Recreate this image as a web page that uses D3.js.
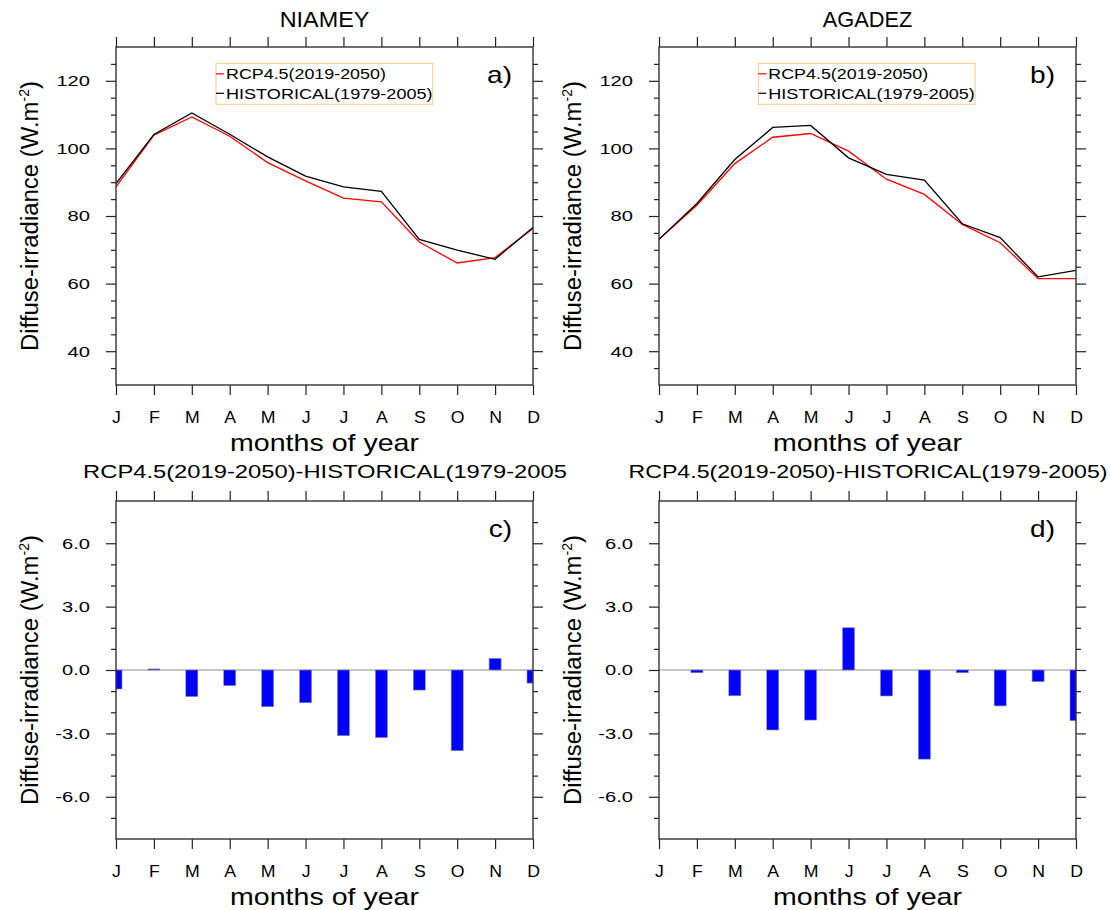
<!DOCTYPE html>
<html>
<head>
<meta charset="utf-8">
<script src="https://cdn.jsdelivr.net/npm/d3@7"></script>
<style>
  html, body { margin: 0; padding: 0; background: #fff; }
  svg { display: block; }
  text { font-family: "Liberation Sans", Arial, Helvetica, sans-serif; fill: #000; }
</style>
</head>
<body>
<svg id="chart" width="1110" height="910"></svg>
<script>
// ---- data ---------------------------------------------------------------
const months = ["J", "F", "M", "A", "M", "J", "J", "A", "S", "O", "N", "D"];

// monthly mean diffuse irradiance (W.m-2)
const niameyRcp  = [88.6, 103.9, 109.3, 103.6, 95.8, 90.4, 85.3, 84.2, 72.3, 66.1, 67.7, 76.3];
const niameyHist = [89.6, 104.1, 110.5, 104.2, 97.5, 91.8, 88.6, 87.3, 73.1, 69.9, 67.2, 76.6];
const agadezRcp  = [73.1, 83.2, 95.5, 103.3, 104.4, 99.2, 90.9, 86.4, 77.5, 72.1, 61.5, 61.5];
const agadezHist = [73.1, 83.7, 96.7, 106.2, 106.8, 97.2, 92.3, 90.6, 77.7, 73.6, 62.0, 63.9];

// RCP4.5 minus HISTORICAL (W.m-2)
const niameyDiff = [-0.9, 0.05, -1.26, -0.74, -1.74, -1.55, -3.11, -3.2, -0.95, -3.82, 0.55, -0.62];
const agadezDiff = [0, -0.13, -1.22, -2.84, -2.37, 2.0, -1.23, -4.22, -0.13, -1.7, -0.55, -2.4];

const lineTicks = [40, 60, 80, 100, 120];
const barTicks = [-6, -3, 0, 3, 6];
const legendLabels = ["RCP4.5(2019-2050)", "HISTORICAL(1979-2005)"];
const siteTitles = ["NIAMEY", "AGADEZ"];
const diffTitles = ["RCP4.5(2019-2050)-HISTORICAL(1979-2005", "RCP4.5(2019-2050)-HISTORICAL(1979-2005)"];
const panelTags = ["a)", "b)", "c)", "d)"];
const xTitle = "months of year";

// ---- layout -------------------------------------------------------------
const svg = d3.select("#chart");
const W = 417, H = 338;
const colX = [116, 659];
const rowY = [47, 501];
const frameColor = "#333";
const tickColor = "#222";

// text helper: places text at (x,y), optionally rotated, stretched horizontally
function label(parent, x, y, parts, size, opts = {}) {
  const t = parent.append("text")
    .attr("font-size", size)
    .attr("text-anchor", opts.anchor || "middle");
  if (typeof parts === "string") parts = [{ s: parts }];
  parts.forEach(p => {
    const ts = t.append("tspan").text(p.s);
    if (p.size) ts.attr("font-size", p.size);
    if (p.dy) ts.attr("dy", p.dy);
  });
  const natural = t.node().getComputedTextLength();
  const k = opts.width ? opts.width / natural : (opts.sx || 1);
  t.attr("transform", `translate(${x},${y})` + (opts.rotate ? ` rotate(${opts.rotate})` : "") + ` scale(${k},1)`);
  return t;
}

function styleAxis(g, fontSize, sx) {
  g.attr("font-family", null).attr("font-size", null);
  g.select(".domain").remove();
  g.selectAll(".tick line").attr("stroke", tickColor).attr("stroke-width", 1.2);
  g.selectAll(".tick text").attr("font-size", fontSize).attr("fill", "#000").each(function () {
    const t = d3.select(this);
    const x = +t.attr("x") || 0;
    t.attr("x", 0).attr("transform", `translate(${x},0) scale(${sx},1)`);
  });
}

function panel(idx, cfg) {
  const px = colX[idx % 2], py = rowY[Math.floor(idx / 2)];
  const g = svg.append("g").attr("transform", `translate(${px},${py})`);
  const x = d3.scaleLinear().domain([0, 11]).range([0, W]);
  const y = d3.scaleLinear().domain(cfg.domain).range([H, 0]);

  const clipId = "clip" + idx;
  g.append("clipPath").attr("id", clipId).append("rect").attr("width", W).attr("height", H);
  const plot = g.append("g").attr("clip-path", `url(#${clipId})`);

  if (cfg.kind === "line") {
    const line = d3.line().x((d, i) => x(i)).y(d => y(d));
    plot.append("path").datum(cfg.rcp).attr("d", line)
      .attr("fill", "none").attr("stroke", "#ff0000").attr("stroke-width", 1.3);
    plot.append("path").datum(cfg.hist).attr("d", line)
      .attr("fill", "none").attr("stroke", "#000").attr("stroke-width", 1.3);
  } else {
    plot.append("line").attr("x1", 0).attr("x2", W).attr("y1", y(0)).attr("y2", y(0))
      .attr("stroke", "#b4b4b4").attr("stroke-width", 1.5);
    plot.selectAll("rect.bar").data(cfg.diff).join("rect").attr("class", "bar")
      .attr("x", (d, i) => x(i) - 6).attr("width", 12)
      .attr("y", d => y(Math.max(0, d)))
      .attr("height", d => Math.abs(y(d) - y(0)))
      .attr("fill", "#0000ff").attr("stroke", "#8a8aa8").attr("stroke-width", 0.6);
  }

  // axes
  const [lo, hi] = cfg.domain;
  const minors = d3.range(lo, hi + cfg.minorStep / 2, cfg.minorStep)
    .filter(v => v > lo && v < hi && !cfg.ticks.includes(v));

  const left = g.append("g").call(d3.axisLeft(y).tickValues(cfg.ticks).tickSize(10).tickPadding(16).tickFormat(cfg.fmt));
  styleAxis(left, 15.5, 1.3);
  const leftMinor = g.append("g").call(d3.axisLeft(y).tickValues(minors).tickSize(5).tickFormat(""));
  styleAxis(leftMinor, 10, 1);
  const right = g.append("g").attr("transform", `translate(${W},0)`)
    .call(d3.axisRight(y).tickValues(cfg.ticks).tickSize(10).tickFormat(""));
  styleAxis(right, 10, 1);
  const rightMinor = g.append("g").attr("transform", `translate(${W},0)`)
    .call(d3.axisRight(y).tickValues(minors).tickSize(5).tickFormat(""));
  styleAxis(rightMinor, 10, 1);
  const top = g.append("g").call(d3.axisTop(x).tickValues(d3.range(12)).tickSize(10).tickFormat(""));
  styleAxis(top, 10, 1);
  const bottom = g.append("g").attr("transform", `translate(0,${H})`)
    .call(d3.axisBottom(x).tickValues(d3.range(12)).tickSize(10).tickPadding(16).tickFormat(i => months[i]));
  styleAxis(bottom, 17, 1.04);

  // frame
  g.append("rect").attr("width", W).attr("height", H)
    .attr("fill", "none").attr("stroke", frameColor).attr("stroke-width", 1.4);

  // panel tag
  label(g, W - 21, 36, panelTags[idx], 23, { anchor: "end", sx: 1.22 });

  // axis titles
  label(g, W / 2, H + 66, xTitle, 23, { width: 189 });
  label(g, -78, H / 2, [
    { s: "Diffuse-irradiance (W.m" },
    { s: "-2", size: 14, dy: -9 },
    { s: ")", size: 24, dy: 9 }
  ], 24, { rotate: -90, width: 270 });

  // legend
  if (cfg.kind === "line") {
    const lg = g.append("g").attr("transform", `translate(${cfg.legendX},16.3)`);
    lg.append("rect").attr("width", 216.7).attr("height", 41)
      .attr("fill", "#fff").attr("stroke", "#fcc88a").attr("stroke-width", 1);
    const colors = ["#ff0000", "#000"];
    legendLabels.forEach((s, i) => {
      const cy = 10.5 + i * 19.5;
      lg.append("line").attr("x1", 0).attr("x2", 8).attr("y1", cy).attr("y2", cy)
        .attr("stroke", colors[i]).attr("stroke-width", 1.2);
      label(lg, 10, cy + 5.5, s, 15.5, { anchor: "start", width: i === 0 ? 160 : 206.7 });
    });
  }
}

panel(0, { kind: "line", domain: [30, 130], ticks: lineTicks, minorStep: 5, fmt: d => String(d),
  rcp: niameyRcp, hist: niameyHist, legendX: 100 });
panel(1, { kind: "line", domain: [30, 130], ticks: lineTicks, minorStep: 5, fmt: d => String(d),
  rcp: agadezRcp, hist: agadezHist, legendX: 99.3 });
panel(2, { kind: "bar", domain: [-8, 8], ticks: barTicks, minorStep: 1, fmt: d => d.toFixed(1),
  diff: niameyDiff });
panel(3, { kind: "bar", domain: [-8, 8], ticks: barTicks, minorStep: 1, fmt: d => d.toFixed(1),
  diff: agadezDiff });

// titles above each panel
siteTitles.forEach((s, i) => label(svg, colX[i] + W / 2, 27, s, 22, { width: 89.6 }));
label(svg, colX[0] + W / 2 + 0.5, 477.6, diffTitles[0], 18, { width: 484 });
label(svg, colX[1] + W / 2 + 0.5, 477.6, diffTitles[1], 18, { width: 479 });
</script>
</body>
</html>
